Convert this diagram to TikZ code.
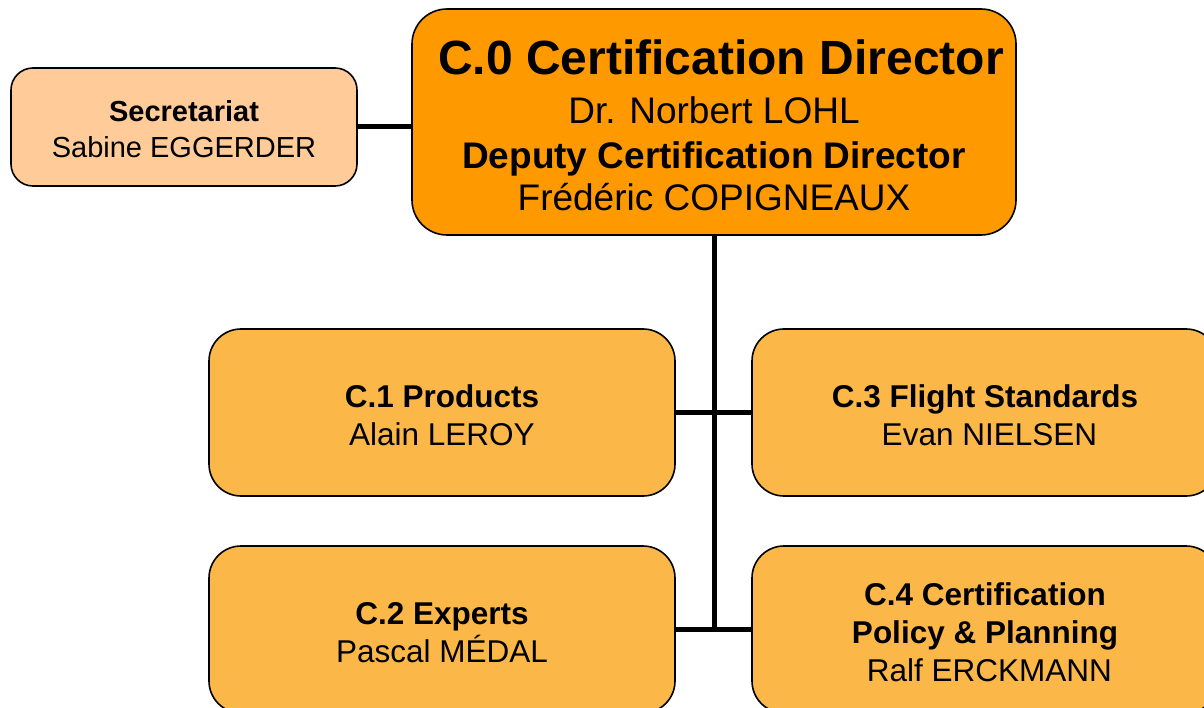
\documentclass[tikz,border=0pt]{standalone}
\usepackage{fontspec}
\setmainfont{Liberation Sans}
\definecolor{secfill}{HTML}{FFCC99}
\definecolor{dirfill}{HTML}{FF9900}
\definecolor{unitfill}{HTML}{FBB848}
\newcommand{\topgap}[1]{\rule{0pt}{#1}}
\begin{document}
\begin{tikzpicture}[x=1pt,y=-1pt,
  box/.style={draw=black, line width=1.6pt, align=center, inner sep=0pt},
  unit/.style={box, fill=unitfill, rounded corners=32pt, minimum width=466pt, minimum height=167pt,
    font=\fontsize{31.5}{38}\selectfont},
  link/.style={line width=5pt}]
\useasboundingbox (0,0) rectangle (1204,708);
\clip (0,0) rectangle (1204,708);

\node[box, fill=secfill, rounded corners=22pt, minimum width=346pt, minimum height=118pt,
  font=\fontsize{29}{36}\selectfont] (sec) at (184,127)
  {\topgap{25pt}\textbf{Secretariat}\\Sabine EGGERDER};

\node[box, fill=dirfill, rounded corners=35pt, minimum width=604pt, minimum height=226pt,
  font=\fontsize{37}{42}\selectfont] (c0) at (714,122)
  {\topgap{42pt}\hspace*{14pt}{\fontsize{48}{56}\selectfont\bfseries C.0 Certification Director}\\[7pt]
   Dr. Norbert LOHL\\[3pt]
   \textbf{Deputy Certification Director}\\
   Frédéric COPIGNEAUX};

\node[unit] (c1) at (442,412.5) {\topgap{29pt}\textbf{C.1 Products}\\Alain LEROY};
\node[unit] (c3) at (985,412.5) {\topgap{29pt}\textbf{C.3 Flight Standards}\\\hspace*{0.28em}Evan NIELSEN};
\node[unit] (c2) at (442,629.5) {\topgap{29pt}\textbf{C.2 Experts}\\Pascal MÉDAL};
\node[unit] (c4) at (985,629.5) {\topgap{29pt}\textbf{C.4 Certification}\\\textbf{Policy \& Planning}\\\hspace*{0.28em}Ralf ERCKMANN};

\coordinate (j2) at (c0.south |- c2.east);
\draw[link] (sec.east) -- (sec.east -| c0.west);
\draw[link] (c0.south) -- (j2);
\draw[link] (c1.east) -- (c3.west);
\draw[link] (c2.east) -- (c4.west);
\end{tikzpicture}
\end{document}
